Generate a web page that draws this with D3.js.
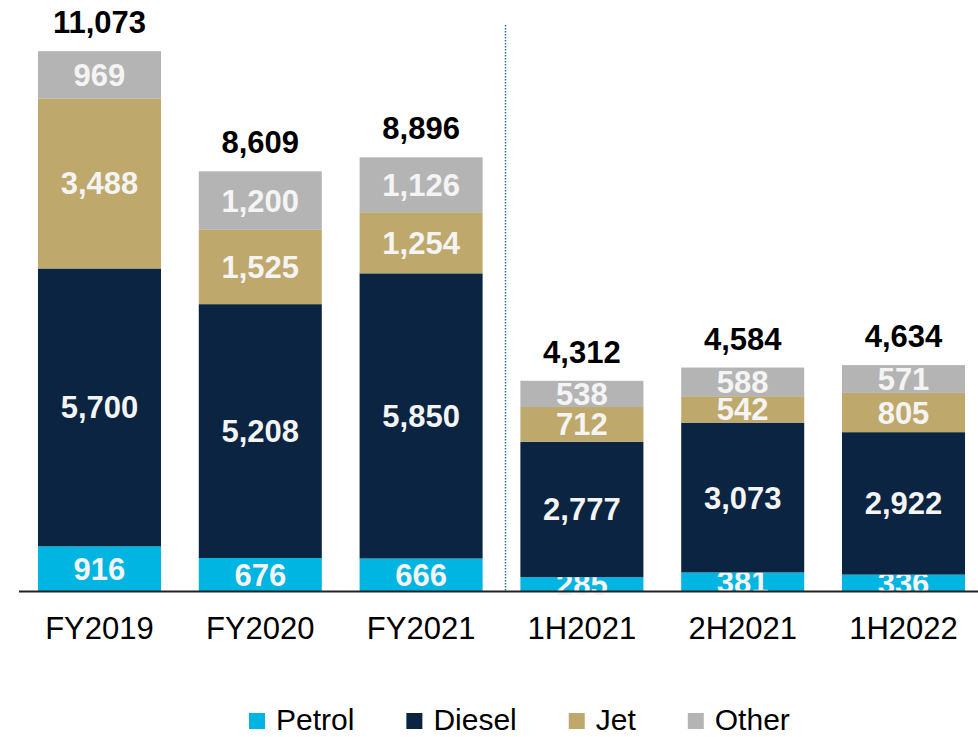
<!DOCTYPE html>
<html>
<head>
<meta charset="utf-8">
<script src="https://cdn.jsdelivr.net/npm/d3@7"></script>
<style>
  body { margin: 0; background: #fff; }
  svg { display: block; font-family: 'Liberation Sans', Arial, sans-serif; }
</style>
</head>
<body>
<svg id="chart" width="978" height="737"></svg>
<script>
'use strict'

// data
const periods = ['FY2019', 'FY2020', 'FY2021', '1H2021', '2H2021', '1H2022']
const series = ['Petrol', 'Diesel', 'Jet', 'Other']
const petrol = [916, 676, 666, 285, 381, 336]
const diesel = [5700, 5208, 5850, 2777, 3073, 2922]
const jet = [3488, 1525, 1254, 712, 542, 805]
const other = [969, 1200, 1126, 538, 588, 571]
const totals = [11073, 8609, 8896, 4312, 4584, 4634]
const colors = ['#00b5e2', '#0a2442', '#bfa86b', '#b4b4b4']

const rows = periods.map(function (p, i) {
  return { period: p, Petrol: petrol[i], Diesel: diesel[i], Jet: jet[i], Other: other[i], total: totals[i] }
})

const svg = d3.select('#chart')
const baseY = 591

const x = d3.scaleBand()
  .domain(periods)
  .range([19, 984])
  .paddingInner(0.235)
  .paddingOuter(0.118)

const y = d3.scaleLinear()
  .domain([0, 12000])
  .range([baseY, 6])

const color = d3.scaleOrdinal()
  .domain(series)
  .range(colors)

const stacked = d3.stack().keys(series)(rows)
const fmt = d3.format(',')

// separator between full years and halves
const sepX = (x('FY2021') + x.bandwidth() + x('1H2021')) / 2 + 4
svg.append('line')
  .attr('x1', sepX)
  .attr('x2', sepX)
  .attr('y1', 25)
  .attr('y2', baseY)
  .attr('stroke', '#2e6da4')
  .attr('stroke-width', 1.5)
  .attr('stroke-dasharray', '1.5,1.5')

const layers = svg.selectAll('.layer')
  .data(stacked)
  .enter()
  .append('g')
  .attr('class', 'layer')
  .attr('fill', function (d) { return color(d.key) })

layers.selectAll('rect')
  .data(function (d) { return d })
  .enter()
  .append('rect')
  .attr('x', function (d) { return x(d.data.period) })
  .attr('width', x.bandwidth())
  .attr('y', function (d) { return y(d[1]) })
  .attr('height', function (d) { return y(d[0]) - y(d[1]) })

// baseline
svg.append('line')
  .attr('x1', 19)
  .attr('x2', 978)
  .attr('y1', baseY + 0.5)
  .attr('y2', baseY + 0.5)
  .attr('stroke', '#222')
  .attr('stroke-width', 2)

// segment labels
layers.selectAll('text')
  .data(function (d) { return d })
  .enter()
  .append('text')
  .attr('x', function (d) { return x(d.data.period) + x.bandwidth() / 2 })
  .attr('y', function (d) { return (y(d[0]) + y(d[1])) / 2 + 11 })
  .attr('text-anchor', 'middle')
  .attr('fill', '#f4f4f4')
  .style('font-size', '31px')
  .style('font-weight', 'bold')
  .text(function (d) { return fmt(d[1] - d[0]) })

// totals
svg.selectAll('.total')
  .data(rows)
  .enter()
  .append('text')
  .attr('class', 'total')
  .attr('x', function (d) { return x(d.period) + x.bandwidth() / 2 })
  .attr('y', function (d) { return y(d.total) - 18 })
  .attr('text-anchor', 'middle')
  .attr('fill', '#000')
  .style('font-size', '31px')
  .style('font-weight', 'bold')
  .text(function (d) { return fmt(d.total) })

// category labels
svg.selectAll('.cat')
  .data(periods)
  .enter()
  .append('text')
  .attr('class', 'cat')
  .attr('x', function (d) { return x(d) + x.bandwidth() / 2 })
  .attr('y', 639)
  .attr('text-anchor', 'middle')
  .attr('fill', '#000')
  .style('font-size', '31px')
  .text(function (d) { return d })

// legend
const legend = svg.append('g').attr('transform', 'translate(249,0)')
let lx = 0
series.forEach(function (s) {
  const g = legend.append('g').attr('transform', 'translate(' + lx + ',0)')
  g.append('rect')
    .attr('x', 0)
    .attr('y', 713)
    .attr('width', 16)
    .attr('height', 16)
    .attr('fill', color(s))
  const t = g.append('text')
    .attr('x', 27)
    .attr('y', 730)
    .attr('fill', '#000')
    .style('font-size', '30px')
    .text(s)
  lx += 27 + t.node().getComputedTextLength() + 52
})
</script>
</body>
</html>
